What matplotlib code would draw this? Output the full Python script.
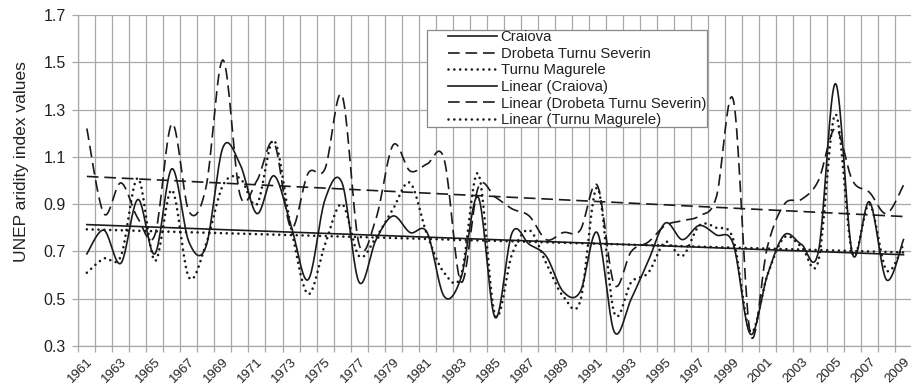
import matplotlib
matplotlib.use('Agg')
import matplotlib.pyplot as plt
import matplotlib.transforms as mtransforms
from matplotlib.patches import Rectangle
import numpy as np

plt.rcParams['font.family'] = ['Liberation Sans', 'DejaVu Sans']

years = list(range(1961, 2010))

craiova = [0.69, 0.79, 0.65, 0.92, 0.69, 1.05, 0.74, 0.72, 1.14, 1.07,
           0.86, 1.02, 0.81, 0.58, 0.92, 0.99, 0.57, 0.75, 0.85, 0.78,
           0.78, 0.51, 0.59, 0.93, 0.42, 0.78, 0.73, 0.68, 0.53, 0.53,
           0.78, 0.36, 0.50, 0.66, 0.82, 0.75, 0.81, 0.77, 0.73, 0.35,
           0.60, 0.77, 0.73, 0.70, 1.41, 0.69, 0.91, 0.58, 0.75]

drobeta = [1.22, 0.86, 0.99, 0.84, 0.77, 1.24, 0.87, 0.97, 1.51, 0.94,
           1.00, 1.16, 0.80, 1.03, 1.05, 1.36, 0.73, 0.84, 1.15, 1.04,
           1.07, 1.09, 0.57, 0.97, 0.93, 0.88, 0.85, 0.75, 0.78, 0.79,
           0.98, 0.56, 0.70, 0.74, 0.81, 0.83, 0.85, 0.93, 1.34, 0.35,
           0.72, 0.90, 0.92, 1.00, 1.22, 1.00, 0.95, 0.86, 0.98]

turnu = [0.61, 0.67, 0.68, 1.01, 0.66, 0.96, 0.59, 0.73, 0.98, 1.01,
         0.90, 1.17, 0.80, 0.52, 0.73, 0.90, 0.68, 0.76, 0.88, 0.99,
         0.77, 0.61, 0.60, 1.03, 0.43, 0.69, 0.79, 0.65, 0.51, 0.49,
         0.97, 0.44, 0.57, 0.61, 0.74, 0.68, 0.81, 0.80, 0.75, 0.36,
         0.60, 0.76, 0.72, 0.66, 1.28, 0.69, 0.90, 0.62, 0.73]

names = ['Craiova', 'Drobeta Turnu Severin', 'Turnu Magurele']


def smooth(y, n=20):
    # Excel-like smoothed line (Catmull-Rom through every point)
    y = np.asarray(y, dtype=float)
    x = np.arange(len(y), dtype=float)
    xs, ys = [], []
    for i in range(len(y) - 1):
        i0, i3 = max(i - 1, 0), min(i + 2, len(y) - 1)
        t = np.linspace(0, 1, n, endpoint=False)
        for arr, out in ((x, xs), (y, ys)):
            p0, p1, p2, p3 = arr[i0], arr[i], arr[i + 1], arr[i3]
            c1 = p1 + (p2 - p0) / 6
            c2 = p2 - (p3 - p1) / 6
            out.extend((1 - t) ** 3 * p1 + 3 * (1 - t) ** 2 * t * c1
                       + 3 * (1 - t) * t ** 2 * c2 + t ** 3 * p2)
    xs.append(x[-1])
    ys.append(y[-1])
    return np.array(xs), np.array(ys)


ink = '#1a1a1a'
grid_c = '#a8a8a8'
styles = [
    dict(linestyle='-', linewidth=1.2),
    dict(linestyle=(0, (7.0, 3.5)), linewidth=1.2),
    dict(linestyle=(0, (0.01, 2.2)), linewidth=1.9, dash_capstyle='round'),
]

fig = plt.figure(figsize=(9.12, 3.9), dpi=100)
ax = fig.add_axes([0.0859, 0.1128, 0.9141, 0.8487])

x = np.arange(len(years))
handles = []
for vals, name, st in zip([craiova, drobeta, turnu], names, styles):
    sx, sy = smooth(vals)
    h, = ax.plot(sx, sy, color=ink, label=name, zorder=3, **st)
    handles.append(h)
for vals, name, st in zip([craiova, drobeta, turnu], names, styles):
    k, b = np.polyfit(x, vals, 1)
    h, = ax.plot(x[[0, -1]], k * x[[0, -1]] + b, color=ink,
                 label='Linear (%s)' % name, zorder=3, **st)
    handles.append(h)

ax.set_xlim(-0.5, 48.2)
ax.set_ylim(0.3, 1.7)
ax.set_yticks(np.arange(0.3, 1.71, 0.2))
ax.set_yticklabels(['%.1f' % v for v in np.arange(0.3, 1.71, 0.2)])

ax.set_xticks(np.arange(len(years) + 1) - 0.5)
ax.set_xticklabels([])
ax.set_xticks(x[::2], minor=True)
ax.set_xticklabels([str(yr) for yr in years[::2]], minor=True,
                   rotation=45, ha='right', va='top', rotation_mode='anchor',
                   fontsize=9.5, color='#222222')
offset = mtransforms.ScaledTranslation(3 / 72, 0, fig.dpi_scale_trans)
for lbl in ax.get_xticklabels(minor=True):
    lbl.set_transform(lbl.get_transform() + offset)

ax.tick_params(axis='x', which='major', length=4, width=0.9, color=grid_c)
ax.tick_params(axis='x', which='minor', length=0, pad=7)
ax.tick_params(axis='y', length=4, width=0.9, color=grid_c, labelsize=11.5,
               labelcolor='#222222', pad=5)

ax.grid(True, which='major', color=grid_c, linewidth=0.9)
ax.set_axisbelow(True)
for s in ['top', 'right']:
    ax.spines[s].set_visible(False)
for s in ['left', 'bottom']:
    ax.spines[s].set_color(grid_c)
    ax.spines[s].set_linewidth(0.9)

ax.set_ylabel('UNEP aridity index values', fontsize=12.5, color='#222222')
ax.yaxis.set_label_coords(-0.059, 0.556)

box = Rectangle((0.4679, 0.6751), 0.3076, 0.2480, transform=fig.transFigure,
                facecolor='white', edgecolor='#888888', linewidth=0.9,
                zorder=4, clip_on=False)
ax.add_patch(box)
leg = ax.legend(handles=handles, loc='upper left',
                bbox_to_anchor=(0.4434, 0.9535), borderaxespad=0,
                borderpad=0, frameon=False, fontsize=10.7,
                handlelength=3.3, handletextpad=0.25, labelspacing=0.17)
leg.set_zorder(5)
for t in leg.get_texts():
    t.set_color('#222222')

fig.savefig('out.png', dpi=100)
plt.close(fig)
